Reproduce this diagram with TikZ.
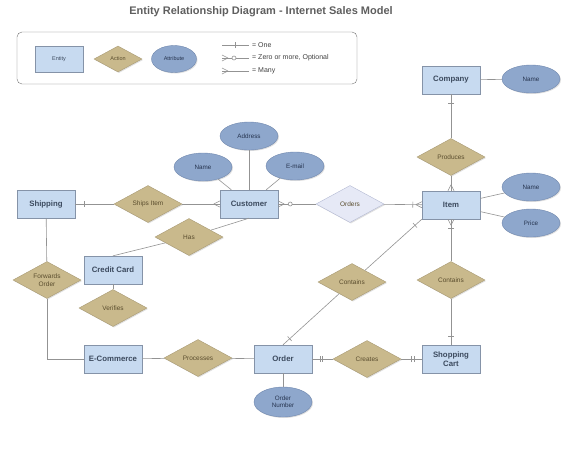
\documentclass[tikz,border=0pt]{standalone}
\usepackage{fontspec}
\setmainfont{Liberation Sans}
\usepackage{tikz}
\usetikzlibrary{positioning,shapes.geometric,decorations.markings,shadows}
\definecolor{entblue}{HTML}{C7DAF0}
\definecolor{entline}{HTML}{8593A8}
\definecolor{enttext}{HTML}{3C4A5E}
\definecolor{acttan}{HTML}{C9B98C}
\definecolor{actline}{HTML}{A89A74}
\definecolor{acttext}{HTML}{5A4D2E}
\definecolor{attblue}{HTML}{8EA7CC}
\definecolor{attline}{HTML}{6F87AD}
\definecolor{atttext}{HTML}{26344F}
\definecolor{ordlav}{HTML}{E6E9F6}
\definecolor{ordline}{HTML}{B3B9D3}
\definecolor{linkgray}{HTML}{939393}
\definecolor{titlegray}{HTML}{5E5E5E}

\begin{document}
\begin{tikzpicture}[x=1pt, y=-1pt,
    entity/.style={draw=entline, fill=entblue, minimum width=58pt, minimum height=28pt, inner sep=1pt, align=center, text=enttext, font=\fontsize{7.8}{8.8}\selectfont\bfseries, drop shadow={shadow xshift=1pt, shadow yshift=-1pt, opacity=0.25}},
    action/.style={diamond, draw=actline, fill=acttan, aspect=1.8, minimum width=68pt, minimum height=37pt, inner sep=0pt, align=center, text=acttext, font=\fontsize{6.5}{7.5}\selectfont, drop shadow={shadow xshift=1pt, shadow yshift=-1pt, opacity=0.25}},
    attrib/.style={ellipse, draw=attline, fill=attblue, minimum width=58pt, minimum height=28pt, inner sep=0pt, align=center, text=atttext, font=\fontsize{6.3}{7.3}\selectfont, drop shadow={shadow xshift=1pt, shadow yshift=-1pt, opacity=0.25}},
    link/.style={draw=linkgray, line width=0.6pt},
    tick/.style={draw=linkgray, line width=0.6pt},
    one/.style={postaction={decorate, decoration={markings, mark=at position -9pt with {\draw[tick] (0,-3pt) -- (0,3pt);}}}},
    twobar/.style={postaction={decorate, decoration={markings, mark=at position -8pt with {\draw[tick] (0,-3pt) -- (0,3pt) (-2.5pt,-3pt) -- (-2.5pt,3pt);}}}},
    many/.style={postaction={decorate, decoration={markings, mark=at position -6pt with {\draw[tick] (0,0) -- (6pt,3pt) (0,0) -- (6pt,-3pt);}}}},
    zero/.style={many, postaction={decorate, decoration={markings, mark=at position -10pt with {\draw[tick, fill=white] (-2pt,0) circle (2pt);}}}},
    legendtext/.style={anchor=west, inner sep=1pt, text=black!75, font=\fontsize{7}{8}\selectfont},
]
\useasboundingbox (0,0) rectangle (568,459);

% Title
\node[font=\fontsize{11}{13}\selectfont\bfseries, text=titlegray] (title) at (261,12) {Entity Relationship Diagram - Internet Sales Model};

% Legend
\node[draw=black!55, rounded corners=5pt, minimum width=340pt, minimum height=52pt] (legend) at (187,58) {};
\node[entity, minimum width=48pt, minimum height=26pt, font=\fontsize{5.5}{6.5}\selectfont] (legent) at (59,59) {Entity};
\node[action, minimum width=48pt, minimum height=26pt, font=\fontsize{5.5}{6.5}\selectfont] (legact) at (118,59) {Action};
\node[attrib, minimum width=45pt, minimum height=27pt, font=\fontsize{5.5}{6.5}\selectfont] (legatt) at (174,59) {Attribute};
\coordinate (onea) at (222,45);  \coordinate (oneb) at (249,45);
\coordinate (zeroa) at (222,58); \coordinate (zerob) at (249,58);
\coordinate (manya) at (222,71); \coordinate (manyb) at (249,71);
\draw[link, postaction={decorate, decoration={markings, mark=at position 0.5 with {\draw[tick] (0,-3pt) -- (0,3pt);}}}] (onea) -- (oneb);
\draw[link, zero] (zerob) -- (zeroa);
\draw[link, many] (manyb) -- (manya);
\node[legendtext] (lone) at (251,45) {= One};
\node[legendtext] (lzero) at (251,58) {= Zero or more, Optional};
\node[legendtext] (lmany) at (251,71) {= Many};

% Entities
\node[entity] (company) at (451,80) {Company};
\node[entity] (item) at (451,205) {Item};
\node[entity] (customer) at (249,204) {Customer};
\node[entity] (shipping) at (46,204) {Shipping};
\node[entity] (ccard) at (113,270) {Credit Card};
\node[entity] (ecom) at (113,359) {E-Commerce};
\node[entity] (order) at (283,359) {Order};
\node[entity] (cart) at (451,359) {Shopping\\Cart};

% Actions
\node[action] (produces) at (451,157) {Produces};
\node[action, draw=ordline, fill=ordlav] (orders) at (350,204) {Orders};
\node[action] (shipsitem) at (148,204) {Ships Item};
\node[action] (has) at (189,237) {Has};
\node[action] (fwdorder) at (47,280) {Forwards\\Order};
\node[action] (verifies) at (113,308) {Verifies};
\node[action] (processes) at (198,358) {Processes};
\node[action] (creates) at (367,359) {Creates};
\node[action] (containsc) at (451,280) {Contains};
\node[action] (containso) at (352,282) {Contains};

% Attributes
\node[attrib] (compname) at (531,79) {Name};
\node[attrib] (custname) at (203,167) {Name};
\node[attrib] (address) at (249,136) {Address};
\node[attrib] (email) at (295,166) {E-mail};
\node[attrib] (itemname) at (531,187) {Name};
\node[attrib] (price) at (531,223) {Price};
\node[attrib, minimum height=30pt] (ordnum) at (283,402) {Order\\Number};

% Attribute links
\foreach \att/\ent in {compname/company, custname/customer, address/customer, email/customer, itemname/item, price/item, ordnum/order}
    \draw[link] (\att) -- (\ent);

% Relationship links
\draw[link, one] (produces) -- (company);
\draw[link, many] (produces) -- (item);
\draw[link, zero] (orders) -- (customer);
\draw[link, one, many] (orders) -- (item);
\draw[link, one] (shipsitem) -- (shipping);
\draw[link, many] (shipsitem) -- (customer);
\draw[link] (customer.south) -- (has);
\draw[link] (has) -- (ccard.north);
\draw[link] (shipping) -- (fwdorder);
\draw[link] (fwdorder.south) |- (ecom.west);
\draw[link] (ccard) -- (verifies);
\draw[link] (ecom) -- (processes);
\draw[link] (processes) -- (order);
\draw[link, twobar] (creates) -- (order);
\draw[link, twobar] (creates) -- (cart);
\draw[link, one] (containsc) -- (cart);
\draw[link, one, many] (containsc) -- (item);
\draw[link, one] (containso) -- (order.north);
\draw[link, one] (containso) -- (item.south west);

\end{tikzpicture}
\end{document}
